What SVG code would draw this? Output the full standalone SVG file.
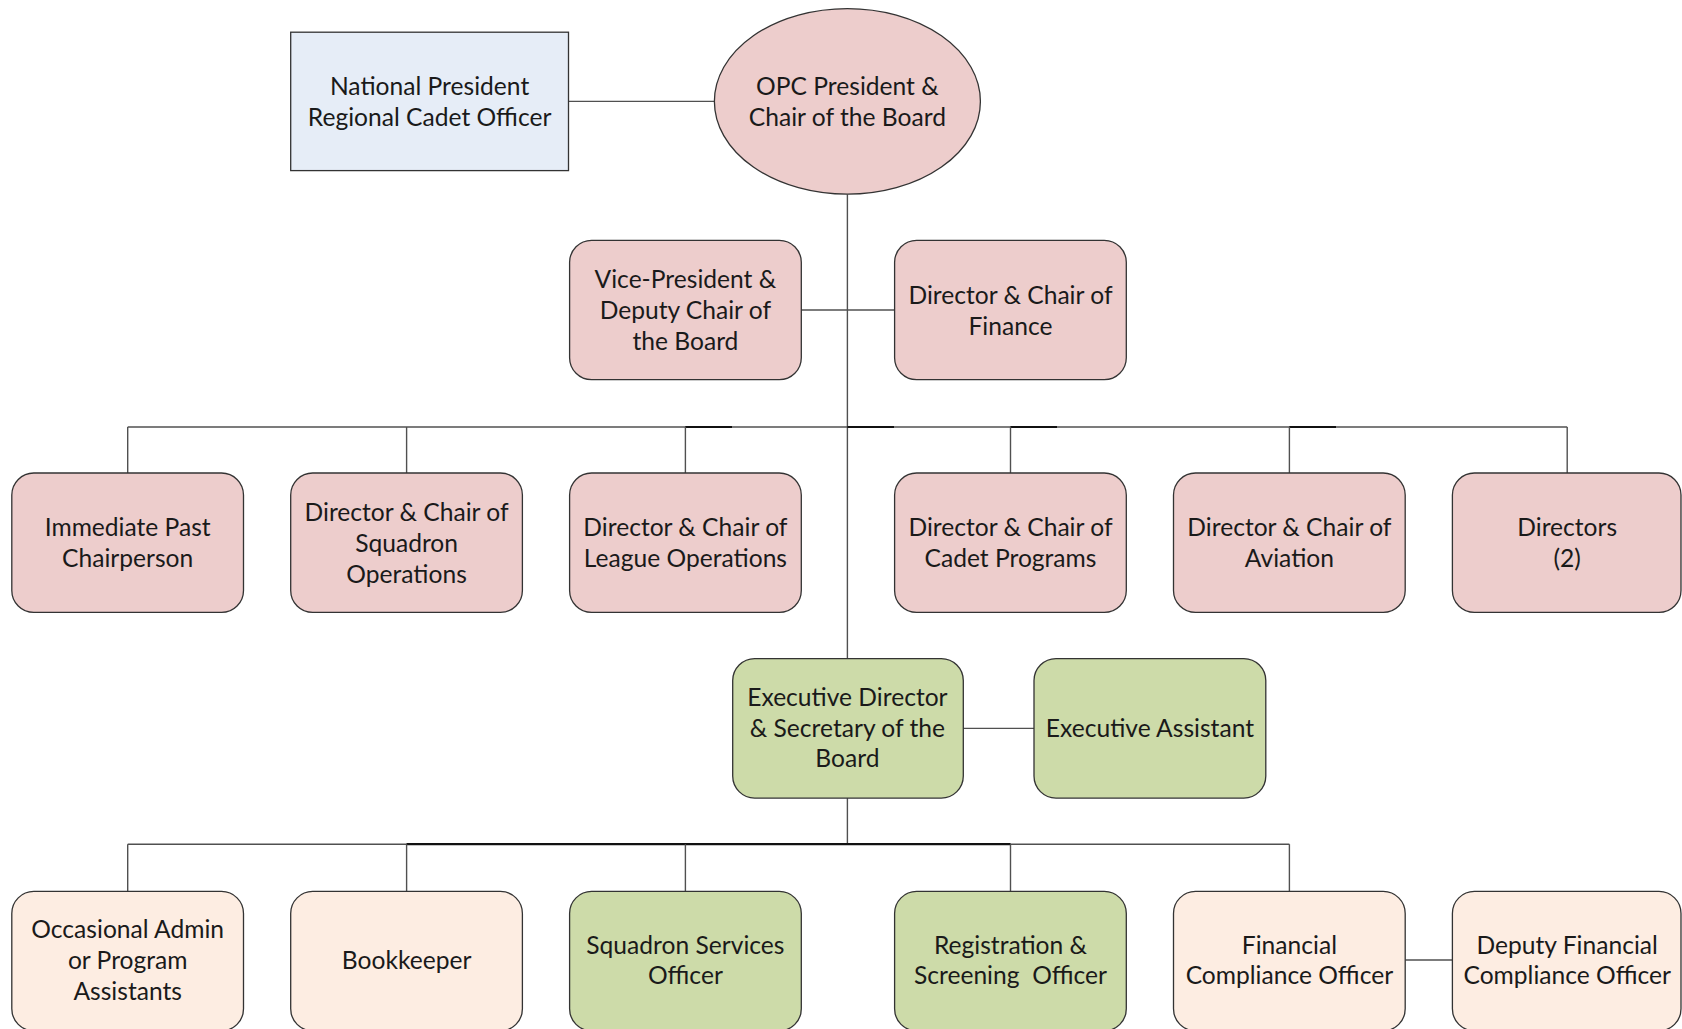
<svg xmlns="http://www.w3.org/2000/svg" width="1682" height="1029" viewBox="0 0 1682 1029">
<style>
.bg{fill:#ffffff}
.ln{stroke:#505050;stroke-width:1.4;fill:none}
.lk{stroke:#111111;stroke-width:2.2;fill:none}
.box{stroke:#333333;stroke-width:1.3}
.pink{fill:#EDCDCC}
.green{fill:#CDDBA9}
.peach{fill:#FDEDE2}
.blue{fill:#E6EDF7}
text{font-family:Lato,"Open Sans","Liberation Sans",sans-serif;font-size:24.6px;fill:#1a1a1a;text-anchor:middle;dominant-baseline:central}
.pre{white-space:pre}
</style>
<rect class="bg" x="0" y="0" width="1682" height="1029"/>
<g id="connectors">
<line class="ln" x1="568.5" y1="101.4" x2="714.5" y2="101.4"/>
<line class="ln" x1="847.4" y1="194.2" x2="847.4" y2="658.6"/>
<line class="ln" x1="801.3" y1="310" x2="894.6" y2="310"/>
<line class="ln" x1="127.7" y1="427" x2="1567.2" y2="427"/>
<line class="lk" x1="685.4" y1="427" x2="732" y2="427"/>
<line class="lk" x1="847.4" y1="427" x2="894" y2="427"/>
<line class="lk" x1="1010.5" y1="427" x2="1057" y2="427"/>
<line class="lk" x1="1289.4" y1="427" x2="1336" y2="427"/>
<line class="ln" x1="127.7" y1="427" x2="127.7" y2="473"/>
<line class="ln" x1="406.6" y1="427" x2="406.6" y2="473"/>
<line class="ln" x1="685.4" y1="427" x2="685.4" y2="473"/>
<line class="ln" x1="1010.5" y1="427" x2="1010.5" y2="473"/>
<line class="ln" x1="1289.4" y1="427" x2="1289.4" y2="473"/>
<line class="ln" x1="1567.2" y1="427" x2="1567.2" y2="473"/>
<line class="ln" x1="963.3" y1="728.4" x2="1034" y2="728.4"/>
<line class="ln" x1="847.4" y1="798.1" x2="847.4" y2="844.2"/>
<line class="ln" x1="127.7" y1="844.2" x2="1289.4" y2="844.2"/>
<line class="lk" x1="406.6" y1="844.2" x2="1010.5" y2="844.2"/>
<line class="ln" x1="127.7" y1="844.2" x2="127.7" y2="891.4"/>
<line class="ln" x1="406.6" y1="844.2" x2="406.6" y2="891.4"/>
<line class="ln" x1="685.4" y1="844.2" x2="685.4" y2="891.4"/>
<line class="ln" x1="1010.5" y1="844.2" x2="1010.5" y2="891.4"/>
<line class="ln" x1="1289.4" y1="844.2" x2="1289.4" y2="891.4"/>
<line class="ln" x1="1405.2" y1="960" x2="1452.4" y2="960"/>
</g>
<g id="national">
<rect class="box blue" x="290.7" y="32.2" width="277.8" height="138.4"/>
<text x="429.6" y="85">National President</text>
<text x="429.6" y="116">Regional Cadet Officer</text>
</g>
<g id="opc-president">
<ellipse class="box pink" cx="847.4" cy="101.4" rx="133" ry="92.8"/>
<text x="847.4" y="85">OPC President &amp;</text>
<text x="847.4" y="116">Chair of the Board</text>
</g>
<g id="vice-president">
<rect class="box pink" x="569.6" y="240.3" width="231.7" height="139.4" rx="22"/>
<text x="685.4" y="278">Vice-President &amp;</text>
<text x="685.4" y="309">Deputy Chair of</text>
<text x="685.4" y="340">the Board</text>
</g>
<g id="finance">
<rect class="box pink" x="894.6" y="240.3" width="231.7" height="139.4" rx="22"/>
<text x="1010.5" y="294">Director &amp; Chair of</text>
<text x="1010.5" y="325">Finance</text>
</g>
<g id="past-chair">
<rect class="box pink" x="11.8" y="473" width="231.7" height="139.4" rx="22"/>
<text x="127.7" y="526">Immediate Past</text>
<text x="127.7" y="557">Chairperson</text>
</g>
<g id="squadron-ops">
<rect class="box pink" x="290.7" y="473" width="231.7" height="139.4" rx="22"/>
<text x="406.6" y="511">Director &amp; Chair of</text>
<text x="406.6" y="542">Squadron</text>
<text x="406.6" y="573">Operations</text>
</g>
<g id="league-ops">
<rect class="box pink" x="569.6" y="473" width="231.7" height="139.4" rx="22"/>
<text x="685.4" y="526">Director &amp; Chair of</text>
<text x="685.4" y="557">League Operations</text>
</g>
<g id="cadet-programs">
<rect class="box pink" x="894.6" y="473" width="231.7" height="139.4" rx="22"/>
<text x="1010.5" y="526">Director &amp; Chair of</text>
<text x="1010.5" y="557">Cadet Programs</text>
</g>
<g id="aviation">
<rect class="box pink" x="1173.5" y="473" width="231.7" height="139.4" rx="22"/>
<text x="1289.4" y="526">Director &amp; Chair of</text>
<text x="1289.4" y="557">Aviation</text>
</g>
<g id="directors">
<rect class="box pink" x="1452.4" y="473" width="228.6" height="139.4" rx="22"/>
<text x="1567.2" y="526">Directors</text>
<text x="1567.2" y="557">(2)</text>
</g>
<g id="executive-director">
<rect class="box green" x="732.7" y="658.6" width="230.6" height="139.5" rx="22"/>
<text x="847.4" y="696.5">Executive Director</text>
<text x="847.4" y="727.5">&amp; Secretary of the</text>
<text x="847.4" y="757.5">Board</text>
</g>
<g id="executive-assistant">
<rect class="box green" x="1034" y="658.6" width="231.8" height="139.5" rx="22"/>
<text x="1149.9" y="727.5">Executive Assistant</text>
</g>
<g id="occasional-admin">
<rect class="box peach" x="11.8" y="891.4" width="231.7" height="139.4" rx="22"/>
<text x="127.7" y="928">Occasional Admin</text>
<text x="127.7" y="959">or Program</text>
<text x="127.7" y="990">Assistants</text>
</g>
<g id="bookkeeper">
<rect class="box peach" x="290.7" y="891.4" width="231.7" height="139.4" rx="22"/>
<text x="406.6" y="959">Bookkeeper</text>
</g>
<g id="squadron-services">
<rect class="box green" x="569.6" y="891.4" width="231.7" height="139.4" rx="22"/>
<text x="685.4" y="944">Squadron Services</text>
<text x="685.4" y="974">Officer</text>
</g>
<g id="registration">
<rect class="box green" x="894.6" y="891.4" width="231.7" height="139.4" rx="22"/>
<text x="1010.5" y="944">Registration &amp;</text>
<text class="pre" x="1010.5" y="974">Screening  Officer</text>
</g>
<g id="financial-compliance">
<rect class="box peach" x="1173.5" y="891.4" width="231.7" height="139.4" rx="22"/>
<text x="1289.4" y="944">Financial</text>
<text x="1289.4" y="974">Compliance Officer</text>
</g>
<g id="deputy-financial">
<rect class="box peach" x="1452.4" y="891.4" width="228.6" height="139.4" rx="22"/>
<text x="1567.2" y="944">Deputy Financial</text>
<text x="1567.2" y="974">Compliance Officer</text>
</g>
</svg>
